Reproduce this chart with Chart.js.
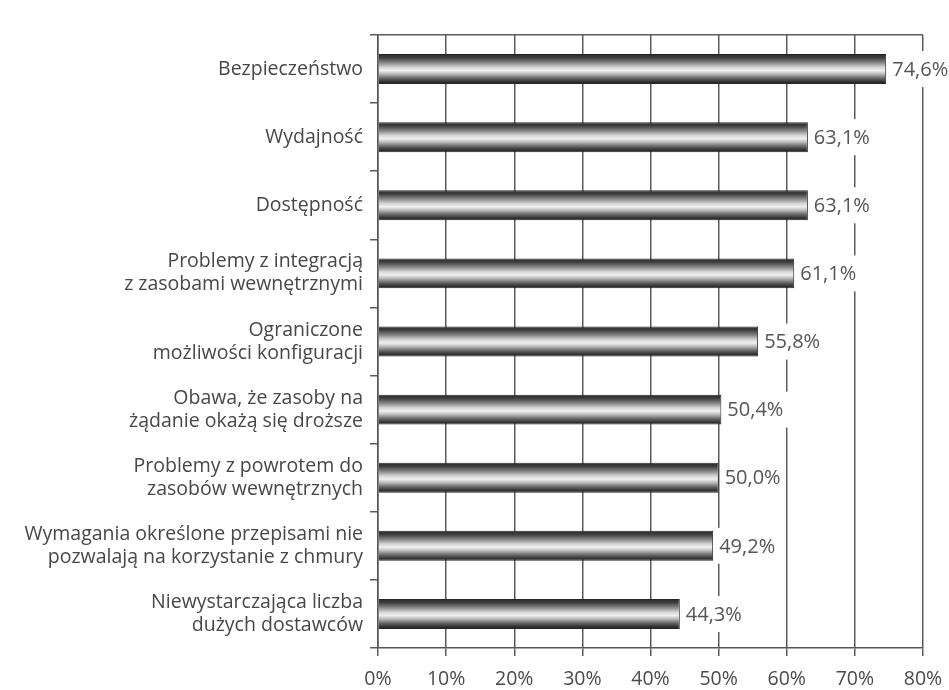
<!DOCTYPE html>
<html>
<head>
<meta charset="utf-8">
<script src="https://cdn.jsdelivr.net/npm/chart.js@4/dist/chart.umd.min.js"></script>
<style>
  html, body { margin: 0; padding: 0; background: #fff; }
  #wrap { width: 949px; height: 690px; position: relative; }
</style>
</head>
<body>
<div id="wrap"><canvas id="c" width="949" height="690"></canvas></div>
<script>
// Data
const categories = [
  ["Bezpieczeństwo"],
  ["Wydajność"],
  ["Dostępność"],
  ["Problemy z integracją", "z zasobami wewnętrznymi"],
  ["Ograniczone", "możliwości konfiguracji"],
  ["Obawa, że zasoby na", "żądanie okażą się droższe"],
  ["Problemy z powrotem do", "zasobów wewnętrznych"],
  ["Wymagania określone przepisami nie", "pozwalają na korzystanie z chmury"],
  ["Niewystarczająca liczba", "dużych dostawców"]
];
const values = [74.6, 63.1, 63.1, 61.1, 55.8, 50.4, 50.0, 49.2, 44.3];
const valueLabels = ["74,6%", "63,1%", "63,1%", "61,1%", "55,8%", "50,4%", "50,0%", "49,2%", "44,3%"];
const xTicks = [0, 10, 20, 30, 40, 50, 60, 70, 80];

const FONT = "'Open Sans', 'Noto Sans', sans-serif";
const BAR_PCT = 0.44;

function barGradient(c) {
  const chart = c.chart;
  const ys = chart.scales && chart.scales.y;
  if (!ys || c.dataIndex === undefined) return '#888';
  const center = ys.getPixelForValue(c.dataIndex);
  const band = (ys.bottom - ys.top) / categories.length;
  const h = band * BAR_PCT;
  if (!isFinite(center) || !isFinite(h) || h <= 0) return '#888';
  const g = chart.ctx.createLinearGradient(0, center - h / 2, 0, center + h / 2);
  g.addColorStop(0.00, '#2a2a2a');
  g.addColorStop(0.12, '#3e3e3e');
  g.addColorStop(0.30, '#8c8c8c');
  g.addColorStop(0.44, '#d4d4d4');
  g.addColorStop(0.55, '#f0f0f0');
  g.addColorStop(0.66, '#bdbdbd');
  g.addColorStop(0.80, '#6a6a6a');
  g.addColorStop(0.92, '#343434');
  g.addColorStop(1.00, '#222222');
  return g;
}

const valueLabelPlugin = {
  id: 'valueLabels',
  afterDatasetsDraw(chart) {
    const ctx = chart.ctx;
    const meta = chart.getDatasetMeta(0);
    ctx.save();
    ctx.font = "20px " + FONT;
    ctx.textBaseline = 'middle';
    ctx.textAlign = 'left';
    meta.data.forEach((el, i) => {
      const txt = valueLabels[i];
      const w = ctx.measureText(txt).width;
      const x0 = el.x + 3;
      ctx.fillStyle = '#ffffff';
      ctx.fillRect(x0, el.y - 18, w + 8, 36);
      ctx.fillStyle = '#555555';
      ctx.fillText(txt, x0 + 3, el.y + 1);
    });
    ctx.restore();
  }
};

new Chart(document.getElementById('c'), {
  type: 'bar',
  data: {
    labels: categories,
    datasets: [{
      data: values,
      backgroundColor: barGradient,
      borderColor: '#262626',
      borderWidth: 1,
      borderSkipped: 'left',
      barPercentage: BAR_PCT,
      categoryPercentage: 1.0
    }]
  },
  options: {
    indexAxis: 'y',
    responsive: false,
    animation: false,
    devicePixelRatio: 1,
    layout: { padding: { top: 35, right: 26, bottom: 0, left: 0 } },
    plugins: {
      legend: { display: false },
      tooltip: { enabled: false }
    },
    scales: {
      x: {
        min: 0,
        max: 80,
        afterBuildTicks(scale) { scale.ticks = xTicks.map(v => ({ value: v })); },
        afterFit(scale) {
          scale.height = 42;
          scale.paddingRight = 0;
          scale.paddingLeft = 0;
        },
        ticks: {
          callback: v => v + '%',
          color: '#4a4a4a',
          font: { family: FONT, size: 19.5 },
          padding: 12
        },
        grid: { color: '#5a5a5a', lineWidth: 1.5, tickLength: 8, tickColor: '#5a5a5a' },
        border: { color: '#555', width: 1.5 }
      },
      y: {
        offset: true,
        afterFit(scale) {
          scale.width = 378;
          scale.paddingTop = 0;
          scale.paddingBottom = 0;
        },
        ticks: {
          color: '#474747',
          font: { family: FONT, size: 19.5, lineHeight: 1.18 },
          padding: 7
        },
        grid: {
          offset: true,
          color: c => (c.index === 0 ? '#5a5a5a' : 'rgba(0,0,0,0)'),
          tickColor: '#5a5a5a',
          lineWidth: 1.5,
          tickLength: 8
        },
        border: { color: '#555', width: 1.5 }
      }
    }
  },
  plugins: [valueLabelPlugin]
});
</script>
</body>
</html>
